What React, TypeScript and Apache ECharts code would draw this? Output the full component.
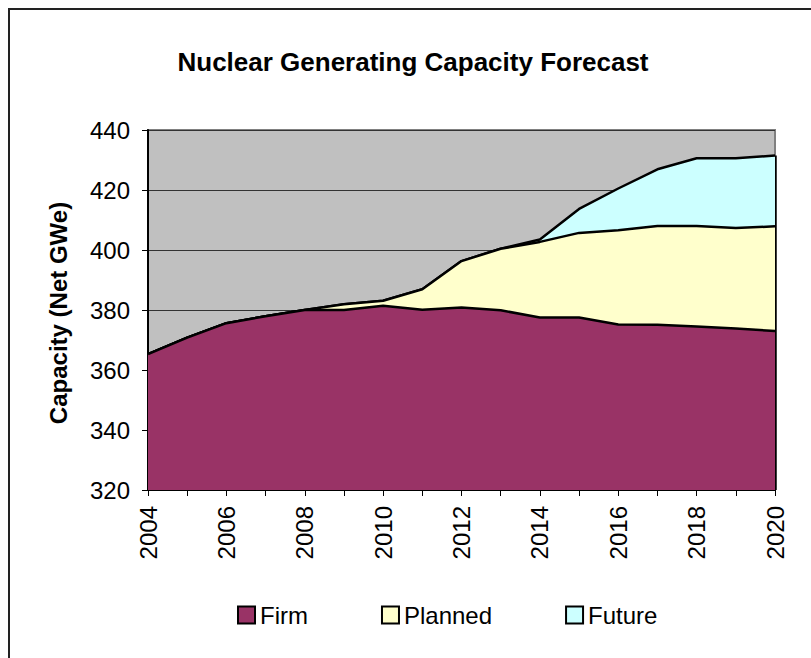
import React, { useEffect, useRef } from "react";
import * as echarts from "echarts";

const years = ["2004","2005","2006","2007","2008","2009","2010","2011","2012","2013","2014","2015","2016","2017","2018","2019","2020"];
const firm = [365.3, 370.8, 375.6, 377.9, 380.0, 380.0, 381.4, 380.1, 380.8, 379.9, 377.5, 377.5, 375.2, 375.1, 374.5, 373.8, 373.0];
const planned = [0, 0, 0, 0, 0, 1.9, 1.7, 6.8, 15.5, 20.5, 25.2, 28.2, 31.4, 32.9, 33.5, 33.5, 34.9];
const future = [0, 0, 0, 0, 0, 0, 0, 0, 0, 0, 0.8, 8.0, 13.9, 18.9, 22.6, 23.3, 23.6];
const seriesNames = ["Firm", "Planned", "Future"];
const seriesColors = ["#993366", "#FFFFCC", "#CCFFFF"];
const yMin = 320;
const yMax = 440;
const yStep = 20;

const FONT = "'Liberation Sans', Arial, sans-serif";

export default function App() {
  const ref = useRef<HTMLDivElement>(null);
  useEffect(() => {
    if (!ref.current) return;
    const chart = echarts.init(ref.current, null, { renderer: "svg" });
    const last = years.length - 1;
    const total = firm[last] + planned[last] + future[last];
    const datasets = [firm, planned, future];
    const option: any = {
      animation: false,
      backgroundColor: "#ffffff",
      textStyle: { fontFamily: FONT },
      graphic: [
        {
          type: "rect",
          shape: { x: 9, y: 9, width: 900, height: 800 },
          style: { fill: "none", stroke: "#222", lineWidth: 2 },
          silent: true,
        },
        {
          type: "text",
          x: 413,
          y: 62,
          style: {
            text: "Nuclear Generating Capacity Forecast",
            font: `bold 26px ${FONT}`,
            fill: "#000",
            align: "center",
            verticalAlign: "middle",
          },
        },
        {
          type: "text",
          x: 58,
          y: 313,
          rotation: Math.PI / 2,
          style: {
            text: "Capacity (Net GWe)",
            font: `bold 24px ${FONT}`,
            fill: "#000",
            align: "center",
            verticalAlign: "middle",
          },
        },
      ],
      legend: {
        data: seriesNames,
        left: 237,
        top: 603,
        padding: 0,
        icon: "rect",
        itemWidth: 17,
        itemHeight: 17,
        itemGap: 73,
        textStyle: { fontSize: 24, color: "#000", fontFamily: FONT },
        itemStyle: { borderColor: "#000", borderWidth: 2 },
      },
      grid: {
        left: 148,
        right: 36,
        top: 130,
        bottom: 168,
        show: true,
        backgroundColor: "#C0C0C0",
        borderColor: "#808080",
        borderWidth: 2,
      },
      xAxis: {
        type: "category",
        data: years,
        boundaryGap: false,
        axisLine: { show: true, lineStyle: { color: "#000", width: 2 } },
        axisTick: { show: true, interval: 0, length: 6, lineStyle: { color: "#000", width: 1 } },
        axisLabel: {
          interval: 1,
          rotate: 90,
          fontSize: 24,
          color: "#000",
          margin: 16,
          fontFamily: FONT,
        },
        splitLine: { show: false },
      },
      yAxis: {
        type: "value",
        min: yMin,
        max: yMax,
        interval: yStep,
        axisLine: { show: true, lineStyle: { color: "#000", width: 2 } },
        axisTick: { show: true, length: 6, lineStyle: { color: "#000", width: 1 } },
        axisLabel: { fontSize: 24, color: "#000", margin: 18, fontFamily: FONT },
        splitLine: { show: true, lineStyle: { color: "#333", width: 1 } },
      },
      series: datasets.map((d, i) => ({
        name: seriesNames[i],
        type: "line",
        stack: "total",
        data: d,
        symbol: "none",
        z: 10 - i,
        color: seriesColors[i],
        itemStyle: { color: seriesColors[i], borderColor: "#000", borderWidth: 2 },
        lineStyle: { color: "#000", width: 2.5 },
        areaStyle: { color: seriesColors[i], opacity: 1 },
        markLine:
          i === 2
            ? {
                silent: true,
                symbol: "none",
                label: { show: false },
                lineStyle: { color: "#000", width: 2.5, type: "solid" },
                data: [[{ coord: [last, yMin] }, { coord: [last, total] }]],
              }
            : undefined,
      })),
    };
    chart.setOption(option);
    return () => chart.dispose();
  }, []);
  return (
    <div
      ref={ref}
      style={{ position: "fixed", left: 0, top: 0, width: 811, height: 658 }}
    />
  );
}
